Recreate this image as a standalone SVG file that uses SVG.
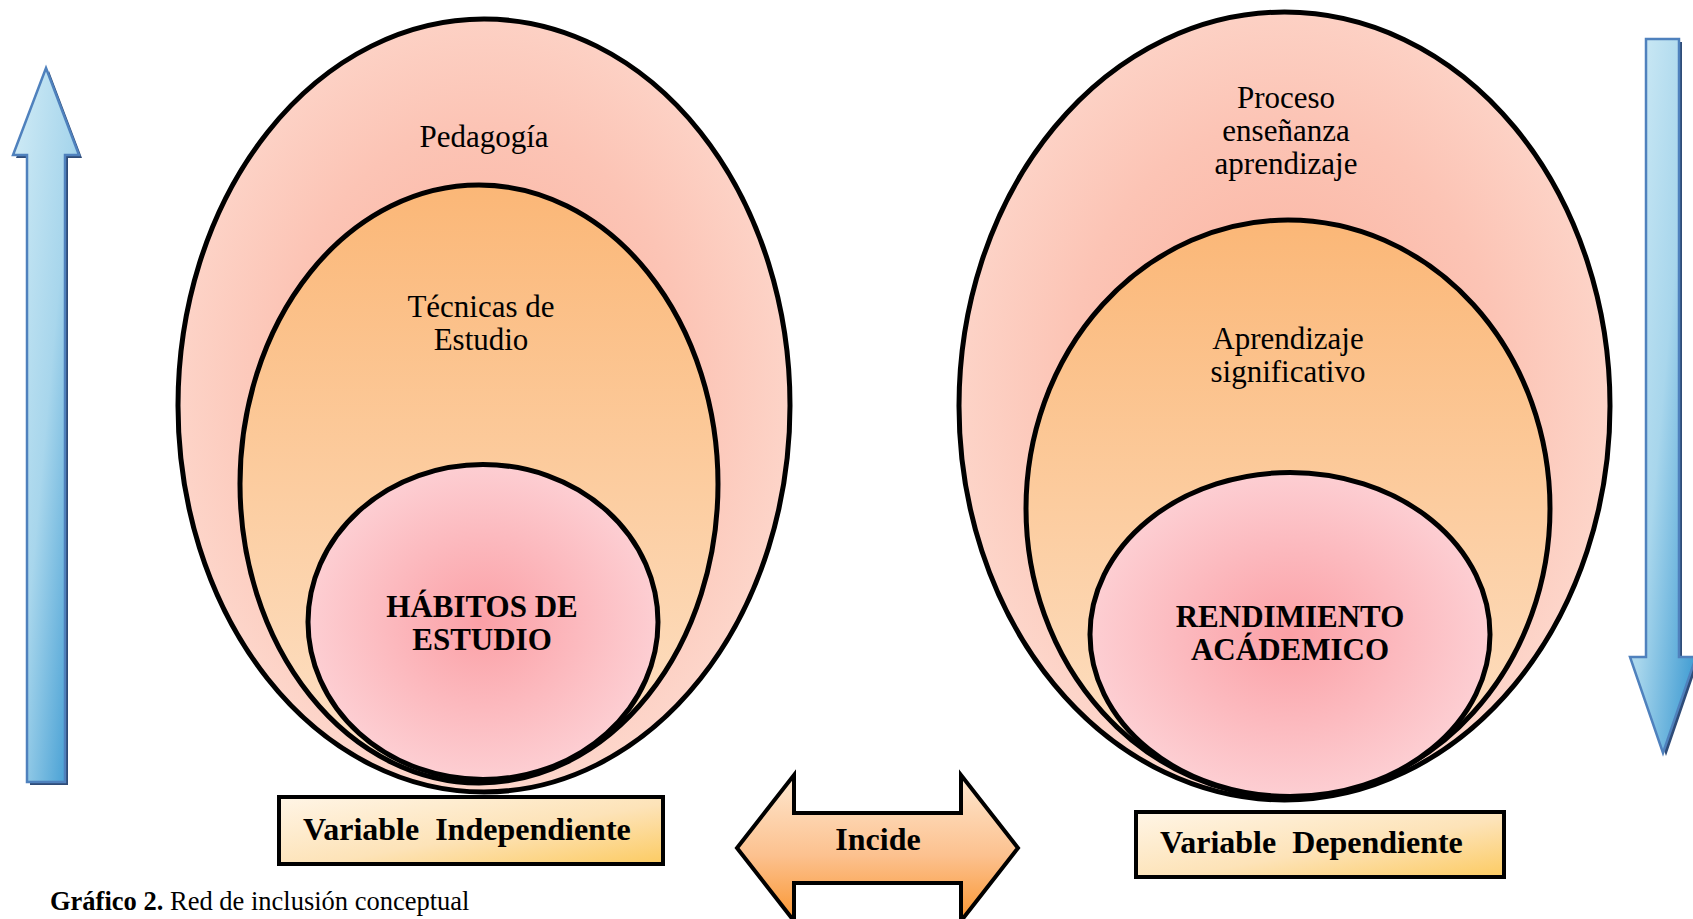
<svg xmlns="http://www.w3.org/2000/svg" width="1693" height="919" viewBox="0 0 1693 919">
<defs>
<radialGradient id="gOuter" cx="0.5" cy="0.47" r="0.55">
<stop offset="0" stop-color="#fab09c"/>
<stop offset="0.6" stop-color="#fcc4b5"/>
<stop offset="1" stop-color="#fdd8cd"/>
</radialGradient>
<linearGradient id="gMid" x1="0" y1="0" x2="0" y2="1">
<stop offset="0" stop-color="#fbb777"/>
<stop offset="1" stop-color="#fde2c8"/>
</linearGradient>
<radialGradient id="gInner" cx="0.5" cy="0.5" r="0.55">
<stop offset="0" stop-color="#fba0a6"/>
<stop offset="1" stop-color="#fdd3d7"/>
</radialGradient>
<linearGradient id="gBox" x1="0" y1="0" x2="1" y2="1">
<stop offset="0" stop-color="#fff5e6"/>
<stop offset="0.55" stop-color="#fde3b8"/>
<stop offset="1" stop-color="#fccb62"/>
</linearGradient>
<linearGradient id="gIncide" x1="0" y1="0" x2="0" y2="1">
<stop offset="0" stop-color="#fee8d0"/>
<stop offset="0.55" stop-color="#fcc18f"/>
<stop offset="1" stop-color="#fa9630"/>
</linearGradient>
<linearGradient id="gBlue" x1="0" y1="0" x2="1" y2="1">
<stop offset="0" stop-color="#d2ecf6"/>
<stop offset="0.5" stop-color="#a8d6ec"/>
<stop offset="1" stop-color="#3294cf"/>
</linearGradient>
<style>
.ell{stroke:#000;stroke-width:5}
.box{fill:url(#gBox);stroke:#000;stroke-width:4}
.blue{fill:url(#gBlue);stroke:#4f81bd;stroke-width:2.5}
.shadow{fill:#2f4c78}
.t{font-family:"Liberation Serif","Times New Roman",serif;font-size:31px;fill:#000;text-anchor:middle}
.b{font-weight:bold}
.bx{font-family:"Liberation Serif","Times New Roman",serif;font-size:32px;font-weight:bold;fill:#000}
</style>
</defs>
<rect width="1693" height="919" fill="#ffffff"/>

<g id="connectors">
<g id="arrow-up">
<polygon class="shadow" points="49,71 82,158 68,158 68,785 30,785 30,158 16,158"/>
<polygon class="blue" points="46,68 79,155 65,155 65,782 27,782 27,155 13,155"/>
</g>
<g id="arrow-down">
<polygon class="shadow" points="1649,42 1682,42 1682,660 1699,660 1666,756 1633,660 1649,660"/>
<polygon class="blue" points="1646,39 1679,39 1679,657 1696,657 1663,753 1630,657 1646,657"/>
</g>
</g>

<g id="node-pedagogia">
<ellipse class="ell" cx="484" cy="405.5" rx="306" ry="386.5" fill="url(#gOuter)"/>
<text class="t" x="484" y="147">Pedagogía</text>
</g>
<g id="node-tecnicas">
<ellipse class="ell" cx="479" cy="484" rx="239" ry="299" fill="url(#gMid)"/>
<text class="t" x="481" y="317">Técnicas de</text>
<text class="t" x="481" y="350">Estudio</text>
</g>
<g id="node-habitos">
<ellipse class="ell" cx="483" cy="622" rx="175" ry="157.5" fill="url(#gInner)"/>
<text class="t b" x="482" y="617">HÁBITOS DE</text>
<text class="t b" x="482" y="650">ESTUDIO</text>
</g>

<g id="node-proceso">
<ellipse class="ell" cx="1284.5" cy="406" rx="325.5" ry="394" fill="url(#gOuter)"/>
<text class="t" x="1286" y="108">Proceso</text>
<text class="t" x="1286" y="141">enseñanza</text>
<text class="t" x="1286" y="174">aprendizaje</text>
</g>
<g id="node-aprendizaje">
<ellipse class="ell" cx="1288" cy="508.5" rx="262" ry="288.5" fill="url(#gMid)"/>
<text class="t" x="1288" y="349">Aprendizaje</text>
<text class="t" x="1288" y="382">significativo</text>
</g>
<g id="node-rendimiento">
<ellipse class="ell" cx="1290" cy="634.5" rx="200" ry="162" fill="url(#gInner)"/>
<text class="t b" x="1290" y="627">RENDIMIENTO</text>
<text class="t b" x="1290" y="660">ACÁDEMICO</text>
</g>

<g id="node-var-independiente">
<rect class="box" x="279" y="797" width="384" height="67"/>
<text class="bx" x="303" y="840" xml:space="preserve">Variable  Independiente</text>
</g>

<g id="node-incide">
<polygon points="737,848 794,775 794,813 961,813 961,775 1018,848 961,921 961,883 794,883 794,921" fill="url(#gIncide)" stroke="#000" stroke-width="4" stroke-linejoin="miter"/>
<text class="t b" x="878" y="850" style="font-size:32px">Incide</text>
</g>

<g id="node-var-dependiente">
<rect class="box" x="1136" y="812" width="368" height="65"/>
<text class="bx" x="1160" y="853" xml:space="preserve">Variable  Dependiente</text>
</g>

<g id="caption">
<text x="50" y="910" style="font-family:'Liberation Serif','Times New Roman',serif;font-size:26.5px;fill:#000"><tspan font-weight="bold">Gráfico 2.</tspan> Red de inclusión conceptual</text>
</g>
</svg>
